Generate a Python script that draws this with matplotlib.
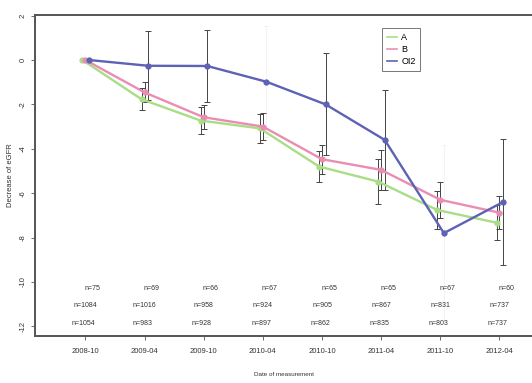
import matplotlib

matplotlib.use("Agg")

import matplotlib.pyplot as plt  # noqa: E402
import numpy as np  # noqa: E402

dates = ["2008-10", "2009-04", "2009-10", "2010-04", "2010-10", "2011-04", "2011-10", "2012-04"]

a_mean = [0.0, -1.77, -2.73, -3.08, -4.80, -5.48, -6.76, -7.33]
a_err = [0.0, 0.50, 0.60, 0.65, 0.70, 1.00, 0.85, 0.80]
b_mean = [0.0, -1.46, -2.58, -3.00, -4.47, -4.95, -6.30, -6.88]
b_err = [0.0, 0.45, 0.55, 0.60, 0.65, 0.90, 0.80, 0.75]
c_mean = [0.0, -0.26, -0.27, -0.98, -2.00, -3.60, -7.80, -6.40]
c_err = [0.0, 1.55, 1.63, 2.50, 2.30, 2.24, 3.96, 2.85]
c_faint = [3, 6]  # bars barely visible in the scan

n_c = [75, 69, 66, 67, 65, 65, 67, 60]
n_b = [1084, 1016, 958, 924, 905, 867, 831, 737]
n_a = [1054, 983, 928, 897, 862, 835, 803, 737]

GREEN = "#a9dd86"
PINK = "#ea8db3"
BLUE = "#5d62b4"
BAR = "#444444"
FONT = ["Liberation Sans Narrow", "Liberation Sans", "DejaVu Sans"]

plt.rcParams["font.family"] = FONT

fig = plt.figure(figsize=(5.32, 3.83), dpi=100)
ax = fig.add_axes([0.066, 0.123, 0.934, 0.838])

x = np.arange(1, len(dates) + 1)
series = [
    ("A", a_mean, a_err, GREEN, -0.05),
    ("B", b_mean, b_err, PINK, 0.0),
    ("OI2", c_mean, c_err, BLUE, 0.06),
]
for name, mean, err, col, off in series:
    xs = x + off
    err = np.array(err)
    if name == "OI2":
        solid = np.array([i not in c_faint for i in range(len(xs))])
        ax.errorbar(xs[solid], np.array(mean)[solid], yerr=err[solid], fmt="none",
                    ecolor=BAR, elinewidth=0.7, capsize=2, capthick=0.7, zorder=2)
        ax.errorbar(xs[~solid], np.array(mean)[~solid], yerr=err[~solid], fmt="none",
                    ecolor="#eeeeee", elinewidth=0.5, capsize=1.5, capthick=0.7, zorder=1)
    else:
        ax.errorbar(xs[1:], mean[1:], yerr=err[1:], fmt="none",
                    ecolor=BAR, elinewidth=0.7, capsize=2, capthick=0.7, zorder=2)
    ax.plot(xs, mean, color=col, lw=1.7, marker="o", ms=3.5, mfc=col, mec=col,
            label=name, zorder=3)

rows = [(n_c, -10.29, 0.12), (n_b, -11.06, 0.0), (n_a, -11.87, -0.03)]
for vals, yy, off in rows:
    for xi, v in zip(x, vals):
        ax.text(xi + off, yy, f"n={v}", ha="center", va="center", fontsize=5,
                color="#333333")

ax.set_xlim(0.15, 8.55)
ax.set_ylim(-12.43, 2.03)
ax.set_xticks(x)
ax.set_xticklabels(dates, fontsize=5.5, color="#333333")
ax.set_yticks([2, 0, -2, -4, -6, -8, -10, -12])
ax.set_yticklabels(["2", "0", "-2", "-4", "-6", "-8", "-10", "-12"], rotation=90,
                   va="center", fontsize=5.5, color="#333333")
ax.tick_params(axis="both", length=3, width=0.6, color="#555555")
ax.tick_params(axis="y", pad=3)
ax.tick_params(axis="x", pad=6)

for side in ["top", "left", "bottom"]:
    ax.spines[side].set_linewidth(1.4)
    ax.spines[side].set_color("#555555")
ax.spines["right"].set_visible(False)

ax.set_ylabel("Decrease of eGFR", fontsize=5.5, color="#333333", labelpad=4)
ax.set_xlabel("Date of measurement", fontsize=4.5, color="#333333", labelpad=12)

leg = ax.legend(loc="upper left", bbox_to_anchor=(0.69, 0.972), fontsize=6.5,
                handlelength=1.1, handletextpad=0.5, borderpad=0.5,
                labelspacing=0.35, fancybox=False, frameon=True)
leg.get_frame().set_edgecolor("#555555")
leg.get_frame().set_linewidth(0.7)
for line in leg.get_lines():
    line.set_marker("")
    line.set_linewidth(1.2)

fig.savefig("out.png", dpi=100, facecolor="white")
plt.close(fig)
